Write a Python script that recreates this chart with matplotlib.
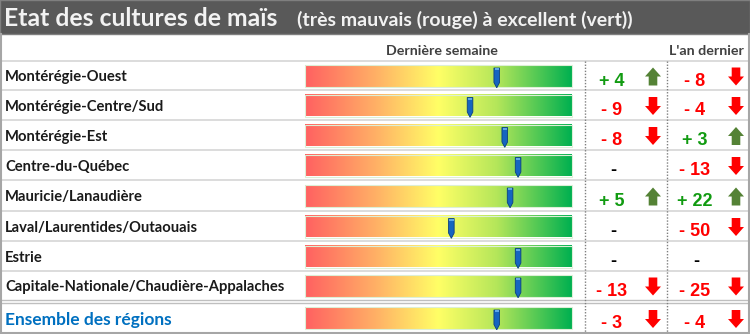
import matplotlib
matplotlib.use("Agg")
import matplotlib.pyplot as plt
import numpy as np
from matplotlib.colors import LinearSegmentedColormap
from matplotlib.patches import Rectangle, Polygon

# ---------------- data ----------------
regions = [
    "Montérégie-Ouest",
    "Montérégie-Centre/Sud",
    "Montérégie-Est",
    "Centre-du-Québec",
    "Mauricie/Lanaudière",
    "Laval/Laurentides/Outaouais",
    "Estrie",
    "Capitale-Nationale/Chaudière-Appalaches",
    "Ensemble des régions",
]
# crop condition index (0 = très mauvais, 100 = excellent)
condition = [72, 62, 75, 80, 77, 55, 80, 80, 72]
# change vs last week / vs last year (None = no change shown "-")
change_week = [4, -9, -8, None, 5, None, None, -13, -3]
change_year = [-8, -4, 3, -13, 22, -50, None, -25, -4]

title = "Etat des cultures de maïs"
subtitle = "(très mauvais (rouge) à excellent (vert))"
col_week = "Dernière semaine"
col_year = "L'an dernier"

# ---------------- layout ----------------
W, H = 750, 334
fig = plt.figure(figsize=(W / 100, H / 100), dpi=100)
ax = fig.add_axes([0, 0, 1, 1])
ax.set_xlim(0, W)
ax.set_ylim(H, 0)
ax.axis("off")

LABEL_FONT = ["Lato", "DejaVu Sans"]
NUM_FONT = ["Liberation Sans", "DejaVu Sans"]

row_tops = [61, 90, 120, 150, 180, 211, 241, 271, 303]
row_bots = [90, 120, 150, 180, 211, 241, 271, 300, 333]
row_c = [(t + b) / 2 for t, b in zip(row_tops, row_bots)]

bar_x0, bar_x1 = 304.5, 571.5
bar_h = 22
sep1, sep2 = 585, 667
num1_x, arr1_x = 612, 653
num2_x, arr2_x = 695, 736

# header band
ax.add_patch(Rectangle((0, 0), W, 34, facecolor="#595959", edgecolor="#7f7f7f", lw=1))
ax.text(4, 26, title, color="#F2F2F2", fontsize=17.8, fontweight="bold",
        family=LABEL_FONT, va="baseline", ha="left")
ax.text(297, 26, subtitle, color="#F2F2F2", fontsize=14, fontweight="bold",
        family=LABEL_FONT, va="baseline", ha="left")

# column headers
ax.text(442, 55, col_week, color="#404040", fontsize=10.3, fontweight="bold",
        family=LABEL_FONT, ha="center", va="baseline")
ax.text(706, 55, col_year, color="#404040", fontsize=10.3, fontweight="bold",
        family=LABEL_FONT, ha="center", va="baseline")

# grid lines
for t in row_tops[:8]:
    ax.plot([0, W], [t, t], color="#D9D9D9", lw=1.3, solid_capstyle="butt")
ax.plot([0, W], [300, 300], color="#BFBFBF", lw=1.0)
ax.plot([0, W], [302.5, 302.5], color="#BFBFBF", lw=1.0)
ax.plot([0, W], [333, 333], color="#A6A6A6", lw=1.5)
ax.plot([0.7, 0.7], [34, 333], color="#A6A6A6", lw=1.5)
ax.plot([749.3, 749.3], [34, 333], color="#A6A6A6", lw=1.5)
for sx in (sep1, sep2):
    ax.plot([sx, sx], [61, 333], color="#7f7f7f", lw=1.0, linestyle=(0, (1, 1.2)))

cmap = LinearSegmentedColormap.from_list(
    "cond", [(0.0, "#FF6161"), (0.27, "#FFB266"), (0.5, "#FFFF66"),
             (0.72, "#B4E65A"), (1.0, "#00B050")])
grad = np.linspace(0, 1, 512)[None, :]


def arrow(cx, cy, up, color):
    hw, sw, hh, total = 8.0, 4.3, 9.0, 18.0
    top = cy - total / 2
    bot = cy + total / 2
    if up:
        pts = [(cx, top), (cx + hw, top + hh), (cx + sw, top + hh), (cx + sw, bot),
               (cx - sw, bot), (cx - sw, top + hh), (cx - hw, top + hh)]
    else:
        pts = [(cx, bot), (cx + hw, bot - hh), (cx + sw, bot - hh), (cx + sw, top),
               (cx - sw, top), (cx - sw, bot - hh), (cx - hw, bot - hh)]
    ax.add_patch(Polygon(pts, closed=True, facecolor=color, edgecolor="none"))


def change_cell(val, nx, axx, cy):
    if val is None:
        ax.text(nx + 1, cy + 10, "-", color="black", fontsize=13, fontweight="bold",
                family=NUM_FONT, ha="center", va="baseline")
        return
    if val > 0:
        s, col, acol = f"+ {val}", "#119B11", "#548235"
    else:
        s, col, acol = f"- {abs(val)}", "#FF0000", "#FF0000"
    ax.text(nx, cy + 10, s, color=col, fontsize=13, fontweight="bold",
            family=NUM_FONT, ha="center", va="baseline")
    arrow(axx, cy + 1, val > 0, acol)


for i, name in enumerate(regions):
    cy = row_c[i]
    last = i == len(regions) - 1
    bc = cy + (0.5 if not last else 0)
    if last:
        ax.text(5, cy + 7, name, color="#0070C0", fontsize=12.5, fontweight="bold",
                family=LABEL_FONT, ha="left", va="baseline")
    else:
        ax.text(5, cy + 6, name, color="#1a1a1a", fontsize=10.6, fontweight="bold",
                family=LABEL_FONT, ha="left", va="baseline")
    # gradient bar
    top, bot = bc - bar_h / 2, bc + bar_h / 2
    ax.imshow(grad, cmap=cmap, extent=[bar_x0, bar_x1, bot, top], aspect="auto",
              interpolation="bilinear", zorder=2)
    ax.add_patch(Rectangle((bar_x0, top), bar_x1 - bar_x0, bar_h, fill=False,
                           edgecolor="#DCEFD6", lw=0.8, zorder=3))
    # pin marker
    px = bar_x0 + condition[i] / 100 * (bar_x1 - bar_x0)
    pw = 2.8
    ptop, pbody, ptip = top + 3, bot - 4.5, bot + 0.8
    ax.add_patch(Polygon([(px - pw, ptop), (px + pw, ptop), (px + pw, pbody),
                          (px, ptip), (px - pw, pbody)], closed=True,
                         facecolor="#1565C0", edgecolor="#0B3F80", lw=0.6, zorder=4))
    ax.add_patch(Rectangle((px - pw + 0.6, ptop + 0.4), 2 * pw - 1.2, 2.0,
                           facecolor="#5FA8E8", edgecolor="none", zorder=5))
    change_cell(change_week[i], num1_x, arr1_x, cy)
    change_cell(change_year[i], num2_x, arr2_x, cy)

ax.set_xlim(0, W)
ax.set_ylim(H, 0)
fig.savefig("out.png", dpi=100, facecolor="white")
